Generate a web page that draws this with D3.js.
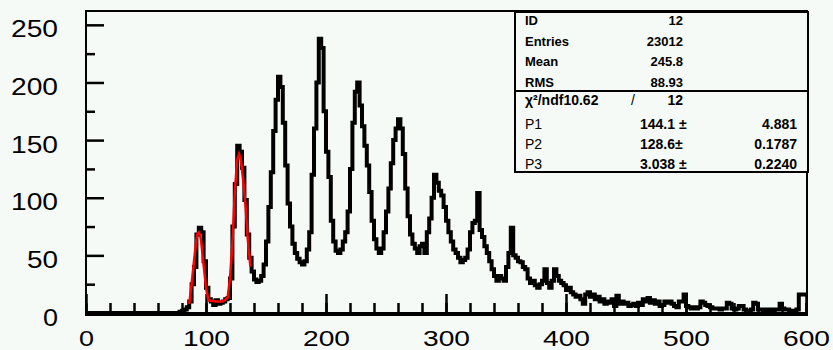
<!DOCTYPE html>
<html>
<head>
<meta charset="utf-8">
<script src="https://cdn.jsdelivr.net/npm/d3@7"></script>
<style>
  body { margin: 0; background: #f6faf6; }
  svg { display: block; }
</style>
</head>
<body>
<div class="histo"></div>
<script>
// bin contents, bins of width 2 from 0 to 600
const counts = [
  0,0,0,0,0,0,0,0,0,0, 0,0,0,0,0,0,0,0,0,0, 0,0,0,0,0,0,0,0,0,0, 0,0,0,0,0,0,0,0,0,1,
  2,3,
  5,10,25,40,68,74,70,45,22,12, 10,7,11,8,9,10,12,13,30,75,
  112,145,140,126,98,68,48,36,29,27, 28,32,42,62,92,122,158,185,205,196,
  165,128,95,75,60,52,47,44,42,45, 55,70,120,160,200,238,230,175,140,118,
  80,62,54,52,55,62,70,88,125,165, 192,200,180,162,145,128,105,80,64,56,
  52,56,70,88,108,130,150,160,168,160, 138,108,84,68,60,56,52,58,60,52,
  70,82,100,120,113,106,102,92,80,70, 62,55,52,48,44,46,48,55,70,78,
  80,104,72,66,58,52,45,38,32,28, 32,30,28,40,52,74,50,48,45,44,
  40,38,30,26,28,24,22,25,28,38, 26,22,28,38,32,28,26,24,20,22,
  18,16,14,15,12,8,16,18,14,16, 12,14,10,12,8,10,9,12,6,15,
  8,10,8,9,6,7,8,6,9,7, 12,10,13,9,11,8,10,6,7,10,
  9,10,8,6,5,10,10,16,6,5, 4,5,4,5,10,9,7,6,5,4,
  4,4,3,4,4,9,8,4,3,4, 6,6,3,2,2,3,9,8,3,3,
  2,3,2,3,2,3,3,8,4,3, 3,2,2,2,3,16,16,16
];
const binWidth = 2;

// fitted curve
const fitX = [86, 88, 90, 92, 93, 94, 95, 96, 98, 100, 102, 108, 114, 118, 120, 122, 124, 126, 127.5, 129, 131, 133, 135, 137];
const fitY = [8, 25, 45, 64, 69, 70, 68, 62, 42, 22, 11, 10, 10, 13, 30, 60, 105, 133, 138, 133, 115, 92, 62, 40];

const xMajor = [0, 100, 200, 300, 400, 500, 600];
const xMinor = d3.range(0, 601, 20);
const yMajor = [0, 50, 100, 150, 200, 250];
const yMinor = [25, 75, 125, 175, 225];

const statNames = ["ID", "Entries", "Mean", "RMS"];
const statValues = ["12", "23012", "245.8", "88.93"];
const chiText = ["\u03c7\u00b2/ndf10.62", "/", "12"];
const parNames = ["P1", "P2", "P3"];
const parValues = ["144.1 \u00b1", "128.6\u00b1", "3.038 \u00b1"];
const parErrors = ["4.881", "0.1787", "0.2240"];

const width = 833, height = 350;
const fLeft = 86, fRight = 807, fTop = 11, fBottom = 313;

const svg = d3.select(".histo").append("svg")
    .attr("width", width)
    .attr("height", height);

const x = d3.scaleLinear().domain([0, 600]).range([fLeft, 806]);
const y = d3.scaleLinear().domain([0, 262]).range([fBottom, fTop]);

const font = "'Liberation Sans', Arial, sans-serif";

// minor + major ticks, drawn inward like ROOT does
function tickAxis(axis, tx, ty) {
  const g = svg.append("g").attr("transform", `translate(${tx},${ty})`).call(axis);
  g.select(".domain").remove();
  g.selectAll(".tick line").attr("stroke", "#000").attr("stroke-width", 2.5);
  return g;
}

tickAxis(d3.axisBottom(x).tickValues(xMinor).tickSize(-10).tickFormat(""), 0, fBottom);
const gx = tickAxis(d3.axisBottom(x).tickValues(xMajor).tickSize(-19).tickPadding(0), 0, fBottom);
gx.selectAll(".tick text")
    .attr("y", 33).attr("dy", null)
    .attr("font-family", font)
    .attr("font-size", 22)
    .attr("fill", "#000")
    .attr("textLength", d => String(d).length * 16 - 1)
    .attr("lengthAdjust", "spacingAndGlyphs");

tickAxis(d3.axisLeft(y).tickValues(yMinor).tickSize(-9).tickFormat(""), fLeft, 0);
const gy = tickAxis(d3.axisLeft(y).tickValues(yMajor).tickSize(-18), fLeft, 0);
gy.selectAll(".tick text")
    .attr("x", 58 - fLeft).attr("dy", null)
    .attr("y", 12)
    .attr("text-anchor", "end")
    .attr("font-family", font)
    .attr("font-size", 24)
    .attr("fill", "#000")
    .attr("textLength", d => String(d).length * 16 - 1)
    .attr("lengthAdjust", "spacingAndGlyphs");

// histogram as steps
const pts = counts.map((c, i) => [i * binWidth, c]);
pts.push([counts.length * binWidth, counts[counts.length - 1]]);

const step = d3.line()
    .x(d => x(d[0]))
    .y(d => y(d[1]))
    .curve(d3.curveStepAfter);

svg.append("path")
    .datum(pts)
    .attr("d", step)
    .attr("fill", "none")
    .attr("stroke", "#000")
    .attr("stroke-width", 4);

// fit
svg.append("path")
    .datum(fitX.map((v, i) => [v, fitY[i]]))
    .attr("d", d3.line().x(d => x(d[0])).y(d => y(d[1])))
    .attr("fill", "none")
    .attr("stroke", "#ff0000")
    .attr("stroke-width", 2.5);

// frame
svg.append("rect")
    .attr("x", fLeft).attr("y", fTop)
    .attr("width", fRight - fLeft).attr("height", fBottom - fTop)
    .attr("fill", "none")
    .attr("stroke", "#000")
    .attr("stroke-width", 2);
svg.append("line")
    .attr("x1", fLeft - 1).attr("x2", fRight + 1)
    .attr("y1", fBottom + 1.5).attr("y2", fBottom + 1.5)
    .attr("stroke", "#000").attr("stroke-width", 3);

// stats box
const box = svg.append("g");
box.append("rect")
    .attr("x", 515).attr("y", 12)
    .attr("width", 293).attr("height", 160)
    .attr("fill", "#f6faf6")
    .attr("stroke", "#000")
    .attr("stroke-width", 2);
box.append("line")
    .attr("x1", 515).attr("x2", 808)
    .attr("y1", 91).attr("y2", 91)
    .attr("stroke", "#000").attr("stroke-width", 2);

const rowY = [25, 46, 66, 87];
statNames.forEach((s, i) => {
  box.append("text").attr("x", 525).attr("y", rowY[i])
      .attr("font-family", font).attr("font-size", 13).attr("font-weight", "bold")
      .text(s);
  box.append("text").attr("x", 683).attr("y", rowY[i])
      .attr("text-anchor", "end")
      .attr("font-family", font).attr("font-size", 13).attr("font-weight", "bold")
      .text(statValues[i]);
});

box.append("text").attr("x", 525).attr("y", 105)
    .attr("font-family", font).attr("font-size", 14).attr("font-weight", "bold")
    .text(chiText[0]);
box.append("text").attr("x", 633).attr("y", 105).attr("text-anchor", "middle")
    .attr("font-family", font).attr("font-size", 14)
    .text(chiText[1]);
box.append("text").attr("x", 683).attr("y", 105).attr("text-anchor", "end")
    .attr("font-family", font).attr("font-size", 14).attr("font-weight", "bold")
    .text(chiText[2]);

const parY = [129, 149, 169];
parNames.forEach((p, i) => {
  box.append("text").attr("x", 525).attr("y", parY[i])
      .attr("font-family", font).attr("font-size", 14)
      .text(p);
  box.append("text").attr("x", 640).attr("y", parY[i])
      .attr("font-family", font).attr("font-size", 14).attr("font-weight", "bold")
      .text(parValues[i]);
  box.append("text").attr("x", 797).attr("y", parY[i]).attr("text-anchor", "end")
      .attr("font-family", font).attr("font-size", 14).attr("font-weight", "bold")
      .text(parErrors[i]);
});
</script>
</body>
</html>
